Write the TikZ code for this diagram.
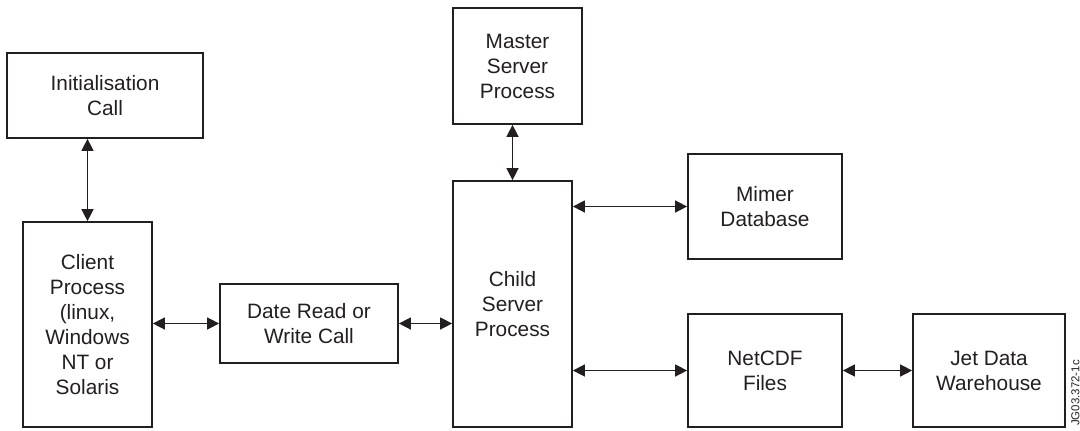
\documentclass[tikz,border=0pt]{standalone}
\usepackage{fontspec}
\setmainfont{Liberation Sans}
\usetikzlibrary{arrows.meta}
\definecolor{ink}{HTML}{231F20}
\begin{document}
\begin{tikzpicture}[x=0.75pt,y=-0.75pt,
  box/.style={draw=ink, line width=1.3pt, fill=white, align=center, inner sep=0pt,
    text=ink, font=\fontsize{15.6}{18.75}\selectfont},
  link/.style={draw=ink, line width=1.1pt,
    {Triangle[length=9pt,width=9pt]}-{Triangle[length=9pt,width=9pt]}}]
\useasboundingbox (0,0) rectangle (1080,430);

% process boxes
\node[box, minimum width=147pt,   minimum height=63.75pt]  (init)   at (105,95.5)  {Initialisation\\Call};
\node[box, minimum width=96.75pt, minimum height=153.75pt] (client) at (87.5,324.5) {Client\\Process\\(linux,\\Windows\\NT or\\Solaris};
\node[box, minimum width=133.5pt, minimum height=59.25pt]  (date)   at (309,323.5) {Date Read or\\Write Call};
\node[box, minimum width=96.75pt, minimum height=87pt]     (master) at (517.5,66)  {Master\\Server\\Process};
\node[box, minimum width=89.25pt, minimum height=184.5pt]  (child)  at (512.5,304) {Child\\Server\\Process};
\node[box, minimum width=115.5pt, minimum height=78.75pt]  (mimer)  at (765,206.5) {Mimer\\Database};
\node[box, minimum width=115.5pt, minimum height=84.75pt]  (netcdf) at (765,370.5) {NetCDF\\Files};
\node[box, minimum width=114pt,   minimum height=84.75pt]  (jet)    at (989,370.5) {Jet Data\\Warehouse};

% two-way connectors
\draw[link] (init.south -| client.north) -- (client.north);
\draw[link] (client.east |- date.west) -- (date.west);
\draw[link] (date.east) -- (date.east -| child.west);
\draw[link] (master.south -| child.north) -- (child.north);
\draw[link] (child.east |- mimer.west) -- (mimer.west);
\draw[link] (child.east |- netcdf.west) -- (netcdf.west);
\draw[link] (netcdf.east) -- (jet.west);

% figure reference tag
\node[rotate=90, text=ink, inner sep=0pt, font=\fontsize{8.6}{10}\selectfont] (tag) at (1075.5,393) {JG03.372-1c};
\end{tikzpicture}
\end{document}
